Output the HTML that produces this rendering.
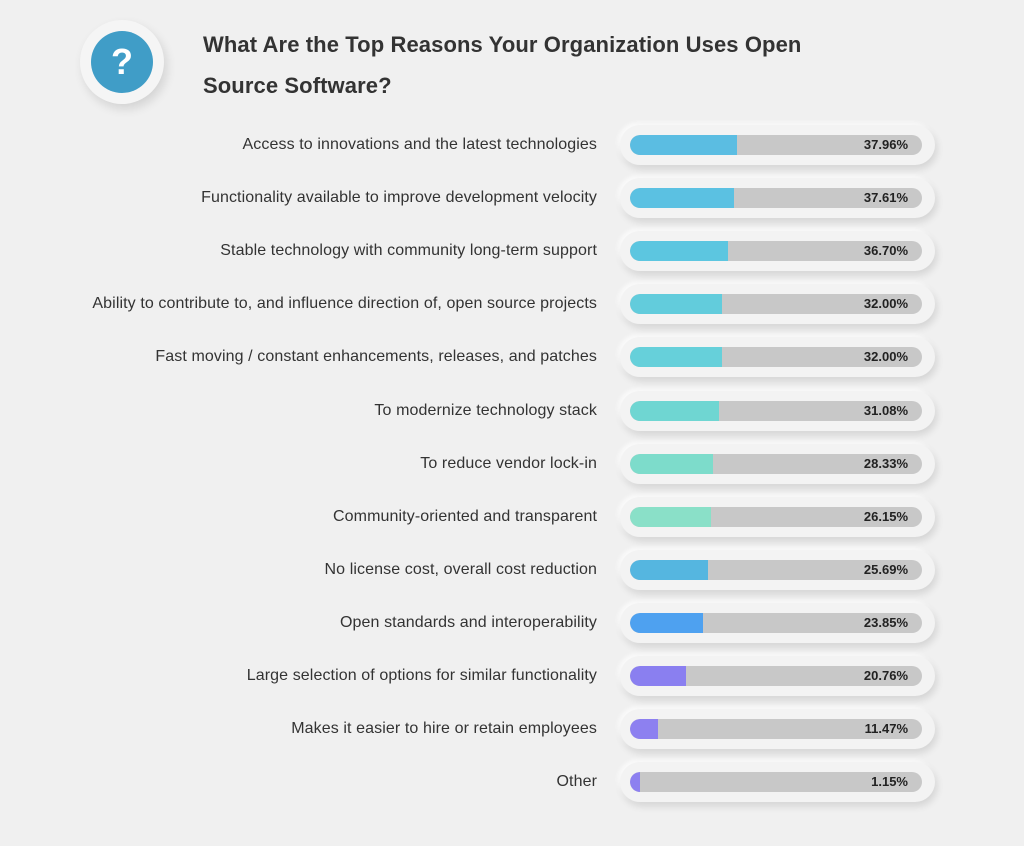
<!DOCTYPE html>
<html><head><style>
body{margin:0;width:1024px;height:846px;background:#f0f0f0;font-family:"Liberation Sans",sans-serif;position:relative;overflow:hidden}
.t{position:absolute;left:203px;font-weight:bold;font-size:22px;color:#333;letter-spacing:0.1px}
.lab{position:absolute;right:427px;font-size:16px;letter-spacing:0.1px;color:#333;white-space:nowrap;transform:translateY(-50%)}
.out{position:absolute;left:620px;width:315px;height:40px;border-radius:20px;background:#f3f3f3;box-shadow:2px 4px 8px rgba(0,0,0,0.12),-2px -2px 5px rgba(255,255,255,0.9)}
.tr{position:absolute;left:10px;top:10px;width:292px;height:20px;border-radius:10px;background:#c8c8c8;overflow:hidden}
.f{position:absolute;left:0;top:0;height:20px;border-radius:10px 0 0 10px}
.v{position:absolute;right:14px;top:2px;font-size:13px;font-weight:bold;color:#222}
</style></head><body>
<div style="position:absolute;left:80px;top:20px;width:84px;height:84px;border-radius:50%;background:#f5f5f5;box-shadow:3px 5px 10px rgba(0,0,0,0.12)"></div>
<div style="position:absolute;left:91px;top:31px;width:62px;height:62px;border-radius:50%;background:#409dc7;color:#fff;font-weight:bold;font-size:36px;text-align:center;line-height:62px">?</div>
<div class="t" style="top:32px">What Are the Top Reasons Your Organization Uses Open</div>
<div class="t" style="top:73px">Source Software?</div>
<div id="rows"></div>
<script>
var d=[["Access to innovations and the latest technologies","37.96%",107,"#5bbde2"],
["Functionality available to improve development velocity","37.61%",104,"#5bc1e2"],
["Stable technology with community long-term support","36.70%",98,"#5cc6e0"],
["Ability to contribute to, and influence direction of, open source projects","32.00%",92,"#62ccdc"],
["Fast moving / constant enhancements, releases, and patches","32.00%",92,"#66d0da"],
["To modernize technology stack","31.08%",89,"#6fd6d2"],
["To reduce vendor lock-in","28.33%",83,"#7ddccb"],
["Community-oriented and transparent","26.15%",81,"#8ae0c8"],
["No license cost, overall cost reduction","25.69%",78,"#55b6e0"],
["Open standards and interoperability","23.85%",73,"#4ea1f0"],
["Large selection of options for similar functionality","20.76%",56,"#8a7ff0"],
["Makes it easier to hire or retain employees","11.47%",28,"#8d80f0"],
["Other","1.15%",10,"#8d80f0"]];
var h="";
d.forEach(function(r,i){var y=145+i*53.1;
h+='<div class="lab" style="top:'+y+'px">'+r[0]+'</div><div class="out" style="top:'+(y-20)+'px"><div class="tr"><div class="f" style="width:'+r[2]+'px;background:'+r[3]+'"></div><div class="v">'+r[1]+'</div></div></div>';});
document.getElementById("rows").innerHTML=h;
</script>
</body></html>
